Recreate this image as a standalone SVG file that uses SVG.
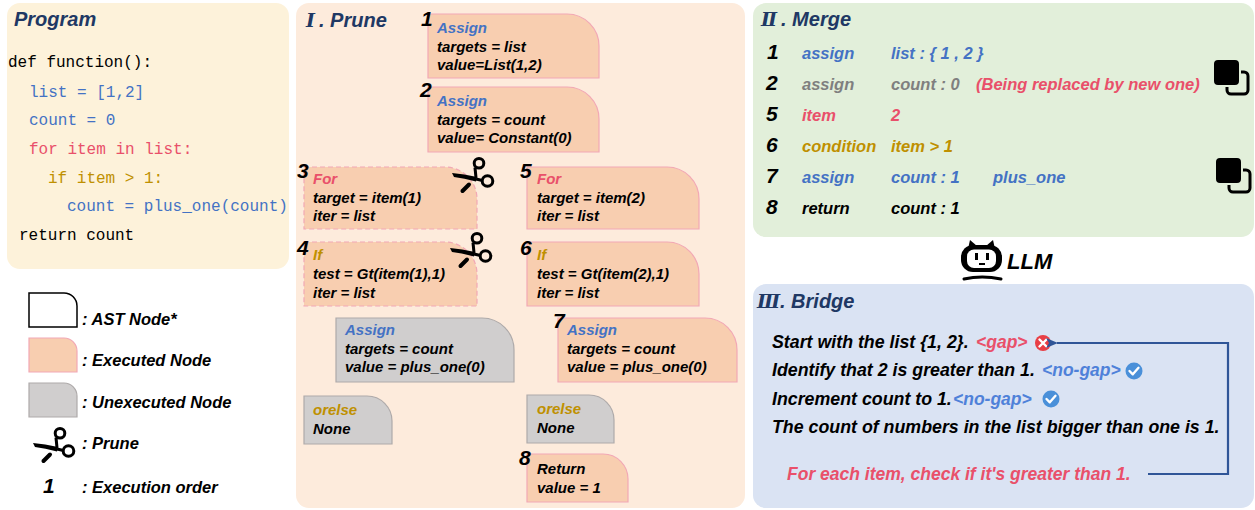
<svg xmlns="http://www.w3.org/2000/svg" xmlns:xlink="http://www.w3.org/1999/xlink" width="1255" height="510" viewBox="0 0 1255 510">
<style>
.t{font-family:"Liberation Sans",Arial,sans-serif;font-weight:bold;font-style:italic;fill:#000}
.code{font-family:"Liberation Mono","DejaVu Sans Mono",monospace;font-size:16px}
.nt{font-size:15px}
.num{font-size:21px}
.ttl{font-size:20px;fill:#203864}
.rom{font-family:"DejaVu Serif","Noto Sans CJK SC",serif;font-weight:bold;font-style:italic;font-size:19px;fill:#203864}
.mg{font-size:16.5px}
.br{font-size:17.8px}
.tag{font-family:"Liberation Sans",Arial,sans-serif;font-style:italic;font-weight:bold;font-size:17.5px}
.lg{font-size:16.5px}
.exe{fill:#F8CEB0;stroke:#F2A8B5;stroke-width:1.2}
.une{fill:#D0CECE;stroke:#AEAAAA;stroke-width:1.2}
.dash{stroke-dasharray:5 3}
.blue{fill:#4472C4}
.tb{fill:#4F81D9}
.red{fill:#E9506A}
.gold{fill:#BF9000}
.gray{fill:#7F7F7F}
</style>
<defs>
<g id="sc">
<circle cx="27" cy="6.3" r="4.8" fill="none" stroke="#000" stroke-width="3"/>
<circle cx="35.5" cy="24" r="5.3" fill="none" stroke="#000" stroke-width="3"/>
<path d="M23,10.5 L24,21" stroke="#000" stroke-width="3" fill="none"/>
<path d="M30.5,23.5 L24,22" stroke="#000" stroke-width="3" fill="none"/>
<path d="M0,16 Q12,17 25,20 L24,24.5 Q12,21 2,20 Z" fill="#000"/>
<path d="M17,27.5 L10.5,34" stroke="#000" stroke-width="4" stroke-linecap="round"/>
</g>
<g id="cp">
<rect x="14" y="13" width="21" height="22" rx="4" fill="none" stroke="#000" stroke-width="3"/>
<rect x="0" y="0" width="27" height="27" rx="5" fill="#000" stroke="#E2EFDA" stroke-width="2"/>
</g>
<marker id="ah" markerWidth="12" markerHeight="12" refX="1" refY="6" orient="auto" markerUnits="userSpaceOnUse">
<path d="M12,1 L0,6 L12,11 L9,6 Z" fill="#2F5597"/>
</marker>
</defs>

<!-- panels -->
<g id="panels">
<rect x="7" y="3" width="282" height="266" rx="13" fill="#FDF2DA"/>
<rect x="296" y="3" width="449" height="505" rx="13" fill="#FDEBDC"/>
<rect x="753" y="3" width="501" height="234" rx="13" fill="#E2EFDA"/>
<rect x="753" y="284" width="501" height="224" rx="13" fill="#DAE3F3"/>
</g>

<!-- Program -->
<g id="program">
<text class="t ttl" x="14" y="26">Program</text>
<text class="code" x="8" y="67" fill="#000">def function():</text>
<text class="code" x="29" y="97" fill="#4472C4">list = [1,2]</text>
<text class="code" x="29" y="125" fill="#4472C4">count = 0</text>
<text class="code" x="29" y="154" fill="#E9506A">for item in list:</text>
<text class="code" x="48" y="183" fill="#BF9000">if item &gt; 1:</text>
<text class="code" x="67" y="211" fill="#4472C4">count = plus_one(count)</text>
<text class="code" x="19" y="240" fill="#000">return count</text>
</g>

<!-- Legend -->
<g id="legend">
<path d="M29,293 H64 A13,13 0 0 1 77,306 V327 H29 Z" fill="#fff" stroke="#000" stroke-width="1.5"/>
<text class="t lg" x="82" y="325">: AST Node*</text>
<path d="M29,338 H64 A13,13 0 0 1 77,351 V372 H29 Z" class="exe"/>
<text class="t lg" x="82" y="366">: Executed Node</text>
<path d="M29,383 H64 A13,13 0 0 1 77,396 V417 H29 Z" class="une" stroke-width="1.5"/>
<text class="t lg" x="82" y="408">: Unexecuted Node</text>
<use xlink:href="#sc" x="33" y="427"/>
<text class="t lg" x="82" y="449">: Prune</text>
<text class="t num" x="43" y="493">1</text>
<text class="t lg" x="82" y="493">: Execution order</text>
</g>

<!-- Prune -->
<g id="prune-title">
<text class="rom" x="306" y="27">Ⅰ</text>
<text class="t ttl" x="319" y="27">. Prune</text>
</g>
<g id="node1">
<path d="M428,14 H567 A32,32 0 0 1 599,46 V78 H428 Z" class="exe"/>
<text class="t num" x="421" y="26">1</text>
<text class="t nt blue" x="437" y="33">Assign</text>
<text class="t nt" x="437" y="52">targets = list</text>
<text class="t nt" x="437" y="70">value=List(1,2)</text>
</g>
<g id="node2">
<path d="M428,87 H567 A32,32 0 0 1 599,119 V152 H428 Z" class="exe"/>
<text class="t num" x="420" y="97">2</text>
<text class="t nt blue" x="437" y="106">Assign</text>
<text class="t nt" x="437" y="125">targets = count</text>
<text class="t nt" x="437" y="143">value= Constant(0)</text>
</g>
<g id="node3">
<path d="M304,167 H445 A32,32 0 0 1 477,199 V229 H304 Z" class="exe dash"/>
<text class="t num" x="297" y="178">3</text>
<text class="t nt red" x="313" y="184">For</text>
<text class="t nt" x="313" y="203">target = item(1)</text>
<text class="t nt" x="313" y="221">iter = list</text>
<use xlink:href="#sc" x="452" y="157"/>
</g>
<g id="node4">
<path d="M304,242 H445 A32,32 0 0 1 477,274 V306 H304 Z" class="exe dash"/>
<text class="t num" x="297" y="255">4</text>
<text class="t nt gold" x="313" y="260">If</text>
<text class="t nt" x="313" y="279">test = Gt(item(1),1)</text>
<text class="t nt" x="313" y="298">iter = list</text>
<use xlink:href="#sc" x="450" y="232"/>
</g>
<g id="node5">
<path d="M527,167 H667 A32,32 0 0 1 699,199 V229 H527 Z" class="exe"/>
<text class="t num" x="520" y="178">5</text>
<text class="t nt red" x="537" y="184">For</text>
<text class="t nt" x="537" y="203">target = item(2)</text>
<text class="t nt" x="537" y="221">iter = list</text>
</g>
<g id="node6">
<path d="M527,242 H667 A32,32 0 0 1 699,274 V306 H527 Z" class="exe"/>
<text class="t num" x="520" y="255">6</text>
<text class="t nt gold" x="537" y="260">If</text>
<text class="t nt" x="537" y="279">test = Gt(item(2),1)</text>
<text class="t nt" x="537" y="298">iter = list</text>
</g>
<g id="node-assign-unexecuted">
<path d="M336,318 H482 A32,32 0 0 1 514,350 V382 H336 Z" class="une"/>
<text class="t nt blue" x="345" y="335">Assign</text>
<text class="t nt" x="345" y="354">targets = count</text>
<text class="t nt" x="345" y="372">value = plus_one(0)</text>
</g>
<g id="node7">
<path d="M558,318 H705 A32,32 0 0 1 737,350 V382 H558 Z" class="exe"/>
<text class="t num" x="553" y="328">7</text>
<text class="t nt blue" x="567" y="335">Assign</text>
<text class="t nt" x="567" y="354">targets = count</text>
<text class="t nt" x="567" y="372">value = plus_one(0)</text>
</g>
<g id="node-orelse-left">
<path d="M304,396 H367 A25,25 0 0 1 392,421 V444 H304 Z" class="une"/>
<text class="t nt gold" x="313" y="415">orelse</text>
<text class="t nt" x="313" y="434">None</text>
</g>
<g id="node-orelse-right">
<path d="M527,395 H589 A25,25 0 0 1 614,420 V443 H527 Z" class="une"/>
<text class="t nt gold" x="537" y="414">orelse</text>
<text class="t nt" x="537" y="433">None</text>
</g>
<g id="node8">
<path d="M527,454 H603 A25,25 0 0 1 628,479 V502 H527 Z" class="exe"/>
<text class="t num" x="519" y="465">8</text>
<text class="t nt" x="537" y="474">Return</text>
<text class="t nt" x="537" y="493">value = 1</text>
</g>

<!-- Merge -->
<g id="merge">
<text class="rom" x="761" y="26">Ⅱ</text>
<text class="t ttl" x="781" y="26">. Merge</text>
<text class="t num" x="767" y="59">1</text>
<text class="t mg blue" x="802" y="59">assign</text>
<text class="t mg blue" x="891" y="59">list : { 1 , 2 }</text>
<text class="t num" x="766" y="90">2</text>
<text class="t mg gray" x="802" y="90">assign</text>
<text class="t mg gray" x="891" y="90">count : 0</text>
<text class="t mg red" x="976" y="90">(Being replaced by new one)</text>
<text class="t num" x="766" y="121">5</text>
<text class="t mg red" x="802" y="121">item</text>
<text class="t mg red" x="891" y="121">2</text>
<text class="t num" x="766" y="152">6</text>
<text class="t mg gold" x="802" y="152">condition</text>
<text class="t mg gold" x="891" y="152">item &gt; 1</text>
<text class="t num" x="766" y="183">7</text>
<text class="t mg blue" x="802" y="183">assign</text>
<text class="t mg blue" x="891" y="183">count : 1</text>
<text class="t mg blue" x="993" y="183">plus_one</text>
<text class="t num" x="766" y="214">8</text>
<text class="t mg" x="802" y="214">return</text>
<text class="t mg" x="891" y="214">count : 1</text>
<use xlink:href="#cp" x="1213" y="59"/>
<use xlink:href="#cp" x="1215" y="157"/>
</g>

<!-- LLM -->
<g id="llm">
<path d="M968,249 L970,240 L977,246 Z" fill="#000"/>
<path d="M995,249 L993,240 L986,246 Z" fill="#000"/>
<rect x="961" y="245" width="41" height="27" rx="12" fill="#000"/>
<rect x="967" y="249.5" width="29" height="18.5" rx="7" fill="#fff"/>
<rect x="975" y="253" width="3" height="7" fill="#000"/>
<rect x="986" y="253" width="3" height="7" fill="#000"/>
<rect x="979" y="263" width="6" height="2" fill="#000"/>
<path d="M964,279 Q982,275 1001,279" fill="none" stroke="#000" stroke-width="3" stroke-linecap="round"/>
<text class="t" x="1007" y="269" font-size="22">LLM</text>
</g>

<!-- Bridge -->
<g id="bridge">
<text class="rom" x="757" y="308">Ⅲ</text>
<text class="t ttl" x="780" y="308">. Bridge</text>
<text class="t br" x="772" y="348">Start with the list {1, 2}.</text>
<text class="tag red" x="976" y="348">&lt;gap&gt;</text>
<circle cx="1043" cy="343" r="8" fill="#E83E45"/>
<path d="M1039.5,339.5 L1046.5,346.5 M1046.5,339.5 L1039.5,346.5" stroke="#fff" stroke-width="2.4" stroke-linecap="round"/>
<text class="t br" x="772" y="376">Identify that 2 is greater than 1.</text>
<text class="tag tb" x="1042" y="376">&lt;no-gap&gt;</text>
<circle cx="1134" cy="371" r="8.5" fill="#4A90D9"/>
<path d="M1129.5,371 L1132.8,374.3 L1138.5,367.8" fill="none" stroke="#fff" stroke-width="2.4" stroke-linecap="round" stroke-linejoin="round"/>
<text class="t br" x="772" y="405">Increment count to 1.</text>
<text class="tag tb" x="953" y="405">&lt;no-gap&gt;</text>
<circle cx="1051" cy="399" r="8.5" fill="#4A90D9"/>
<path d="M1046.5,399 L1049.8,402.3 L1055.5,395.8" fill="none" stroke="#fff" stroke-width="2.4" stroke-linecap="round" stroke-linejoin="round"/>
<text class="t br" x="772" y="433">The count of numbers in the list bigger than one is 1.</text>
<text class="t red" x="787" y="480" font-size="17.5">For each item, check if it's greater than 1.</text>
</g>

<g id="connectors">
<polyline points="1148,474 1228,474 1228,343 1057,343" fill="none" stroke="#2F5597" stroke-width="2.2" marker-end="url(#ah)"/>
</g>
</svg>
